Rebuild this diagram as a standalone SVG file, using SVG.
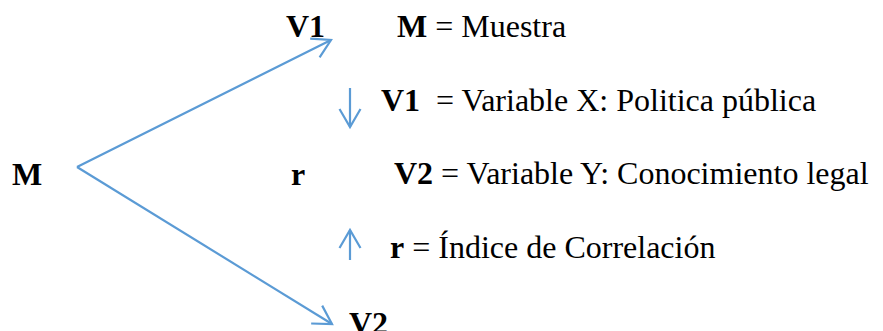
<svg xmlns="http://www.w3.org/2000/svg" width="883" height="331" viewBox="0 0 883 331">
<style>
text{font-family:"Liberation Serif","Times New Roman",serif;font-size:32px;fill:#000}
.b{font-weight:bold}
.c{stroke:#5B9BD5;stroke-width:2.2;fill:none}
</style>
<defs>
<marker id="ah" markerUnits="userSpaceOnUse" markerWidth="30" markerHeight="30" viewBox="-22 -15 26 30" refX="0" refY="0" orient="auto">
<path d="M-18,-10.5 L0,0 L-18,10.5" stroke="#5B9BD5" stroke-width="2.2" fill="none"/>
</marker>
</defs>
<g id="connectors">
<line class="c" x1="77" y1="167" x2="331" y2="40" marker-end="url(#ah)"/>
<line class="c" x1="77" y1="167" x2="332" y2="324" marker-end="url(#ah)"/>
<line class="c" x1="350" y1="88" x2="350" y2="127" marker-end="url(#ah)"/>
<line class="c" x1="350" y1="260" x2="350" y2="230" marker-end="url(#ah)"/>
</g>
<g id="node-M"><text class="b" x="12" y="185">M</text></g>
<g id="node-V1"><text class="b" x="286" y="37">V1</text></g>
<g id="node-r"><text class="b" x="291" y="185">r</text></g>
<g id="node-V2"><text class="b" x="349" y="334">V2</text></g>
<g id="legend">
<text x="397" y="37"><tspan class="b">M</tspan> = Muestra</text>
<text x="381" y="111" xml:space="preserve"><tspan class="b">V1</tspan>  = Variable X: Politica pública</text>
<text x="394" y="184"><tspan class="b">V2</tspan> = Variable Y: Conocimiento legal</text>
<text x="390" y="258"><tspan class="b">r</tspan> = Índice de Correlación</text>
</g>
</svg>
